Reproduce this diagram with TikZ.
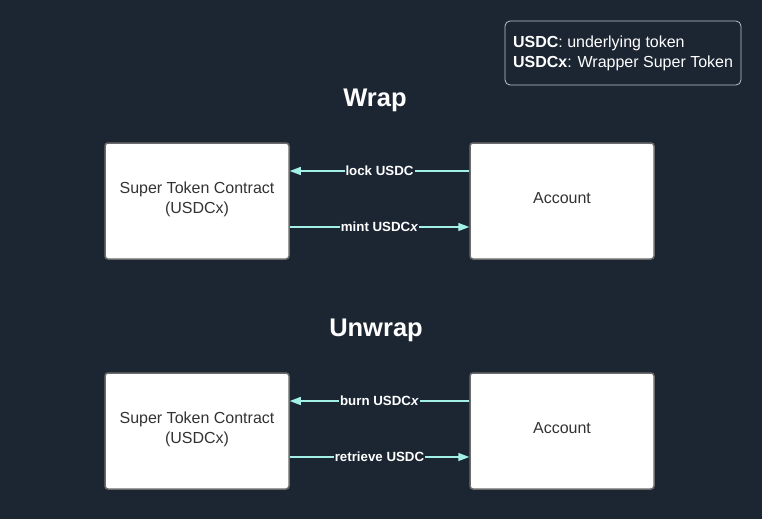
\documentclass[tikz,border=0pt]{standalone}
\usepackage{fontspec}
\setmainfont{Liberation Sans}
\usepackage{xcolor}
\usetikzlibrary{arrows.meta}
\definecolor{bgnavy}{HTML}{1C2633}
\definecolor{flowcyan}{HTML}{A3F0E6}
\definecolor{boxgray}{HTML}{6B6B6B}
\definecolor{keyedge}{HTML}{B4C8C8}

\begin{document}
\begin{tikzpicture}[x=1pt, y=-1pt,
	party/.style={draw=boxgray, line width=1.5pt, fill=white, rounded corners=3pt,
		minimum width=184pt, minimum height=116pt, align=center, text=black!80,
		text depth=7pt, font=\fontsize{16}{19.5}\selectfont},
	flow/.style={draw=flowcyan, line width=1.3pt, -{Triangle[length=11pt, width=8pt]}},
	flowlabel/.style={fill=bgnavy, text=white, inner sep=1pt, font=\bfseries\fontsize{13.3}{15}\selectfont},
	heading/.style={text=white, font=\bfseries\fontsize{25.5}{30}\selectfont}]
	\fill[bgnavy] (0,0) rectangle (762,519);
	\useasboundingbox (0,0) rectangle (762,519);

	% legend
	\node[draw=keyedge, line width=0.8pt, rounded corners=5pt, text=white, align=left,
		minimum width=234pt, minimum height=64pt, inner sep=8pt,
		font=\fontsize{16}{20}\selectfont] (key) at (623,53)
		{\textbf{USDC}: underlying token\\ \textbf{USDCx}: Wrapper Super Token};

	% wrap
	\node[heading] (wraptitle) at (375,100) {Wrap};
	\node[party] (wrapcontract) at (197,201) {Super Token Contract\\(USDCx)};
	\node[party] (wrapaccount) at (562,201) {Account};
	\draw[flow] ([yshift=30pt]wrapaccount.west) -- ([yshift=30pt]wrapcontract.east)
		node[flowlabel, midway] {lock USDC};
	\draw[flow] ([yshift=-26pt]wrapcontract.east) -- ([yshift=-26pt]wrapaccount.west)
		node[flowlabel, midway] {mint USDC\textit{x}};

	% unwrap
	\node[heading] (unwraptitle) at (376,330) {Unwrap};
	\node[party] (unwrapcontract) at (197,431) {Super Token Contract\\(USDCx)};
	\node[party] (unwrapaccount) at (562,431) {Account};
	\draw[flow] ([yshift=30pt]unwrapaccount.west) -- ([yshift=30pt]unwrapcontract.east)
		node[flowlabel, midway] {burn USDC\textit{x}};
	\draw[flow] ([yshift=-26pt]unwrapcontract.east) -- ([yshift=-26pt]unwrapaccount.west)
		node[flowlabel, midway] {retrieve USDC};
\end{tikzpicture}
\end{document}
